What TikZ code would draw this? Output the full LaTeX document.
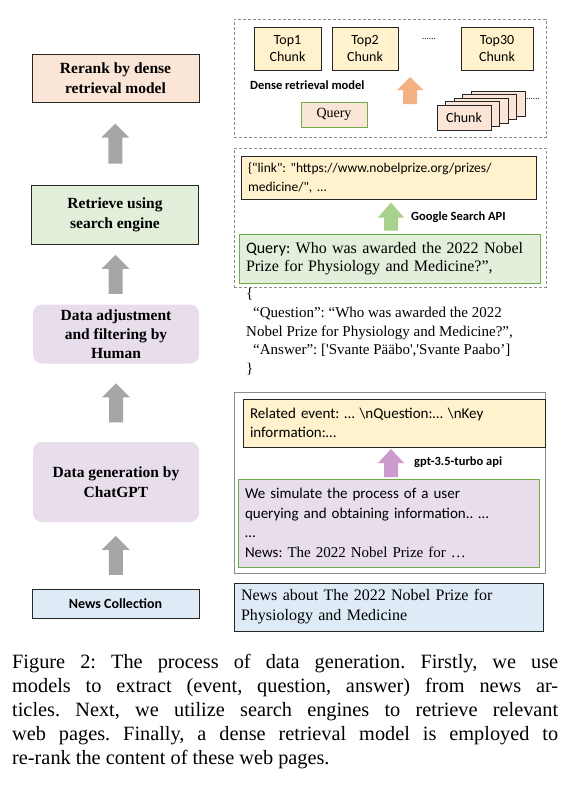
\documentclass[tikz,border=0pt]{standalone}
\usepackage{fontspec}
\setmainfont{Liberation Serif}
\newfontfamily\calib{Carlito}
\usetikzlibrary{calc}
\definecolor{peach}{HTML}{FBE5D6}
\definecolor{lgreen}{HTML}{E2EFDA}
\definecolor{lav}{HTML}{E8DDEA}
\definecolor{lblue}{HTML}{DEEBF7}
\definecolor{lyellow}{HTML}{FFF2CC}
\definecolor{qgreen}{HTML}{70AD47}
\definecolor{boxline}{HTML}{262626}
\definecolor{dashgray}{HTML}{8C8C8C}
\definecolor{arrowgray}{HTML}{A6A6A6}
\definecolor{arroworange}{HTML}{F4B183}
\definecolor{arrowgreen}{HTML}{A9D18E}
\definecolor{arrowpurple}{HTML}{CC9ACC}
\newcommand\blockarrow[6]{% center, length, head width, shaft width, head length, colour
  \begin{scope}[shift={(#1)}, x=1pt, y=1pt]
    \fill[#6] (-#4/2,-#2/2) -- (-#4/2,#2/2-#5) -- (-#3/2,#2/2-#5) -- (0,#2/2)
      -- (#3/2,#2/2-#5) -- (#4/2,#2/2-#5) -- (#4/2,-#2/2) -- cycle;
  \end{scope}}
\tikzset{
  box/.style={draw=boxline, line width=1pt, inner sep=0pt},
  stepbox/.style={box, minimum width=167pt, align=center,
    font=\bfseries\fontsize{15.5}{20}\selectfont},
  softbox/.style={fill=lav, draw=none, rounded corners=9pt, inner sep=0pt,
    minimum width=166pt, align=center, font=\bfseries\fontsize{15.5}{20}\selectfont},
  dashbox/.style={draw=dashgray, dashed, dash pattern=on 3pt off 2pt, line width=0.8pt, inner sep=0pt},
  chunkbox/.style={box, fill=lyellow, minimum height=43pt, align=center,
    font=\calib\fontsize{14}{17}\selectfont},
  stackbox/.style={box, fill=peach, minimum width=54pt, minimum height=25pt,
    font=\calib\fontsize{14}{17}\selectfont},
  textbox/.style={box, inner xsep=7pt, align=left},
  apilabel/.style={anchor=west, inner sep=0pt, font=\calib\bfseries\fontsize{12.5}{15}\selectfont},
  dotlabel/.style={inner sep=0pt, font=\calib\fontsize{9}{9}\selectfont}
}
\begin{document}
\frenchspacing
\begin{tikzpicture}[x=1pt, y=-1pt]
\useasboundingbox (0,0) rectangle (575,793);
\fill[white] (0,0) rectangle (575,793);

% ---------- left column ----------
\node[stepbox, fill=peach, minimum height=48pt] (rerank) at (115.5,78) {Rerank by dense\\retrieval model};
\node[stepbox, fill=lgreen, minimum height=59pt] (retrieve) at (115,214.5) {Retrieve using\\search engine};
\node[softbox, minimum height=59pt] (adjust) at (116,334) {Data adjustment\\[-1pt]and filtering by\\[-1pt]Human};
\node[softbox, minimum height=80pt] (generate) at (116,482) {Data generation by\\ChatGPT};
\node[box, fill=lblue, minimum width=167pt, minimum height=29pt,
  font=\calib\bfseries\fontsize{14}{17}\selectfont] (news) at (115.5,603.5) {News Collection};

\blockarrow{$(rerank.south)!0.5!(retrieve.north)$}{40}{28}{14}{14}{arrowgray}
\blockarrow{$(retrieve.south)!0.5!(adjust.north)$}{39}{28}{14}{14}{arrowgray}
\blockarrow{$(adjust.south)!0.5!(generate.north)$}{39}{28}{14}{14}{arrowgray}
\blockarrow{$(generate.south)!0.5!(news.north)$}{39}{28}{14}{14}{arrowgray}

% ---------- right: dense retrieval ----------
\node[dashbox, minimum width=312pt, minimum height=118pt] (dtop) at (390,78) {};
\node[chunkbox, minimum width=67pt] (top1) at (287.5,48.5) {Top1\\Chunk};
\node[chunkbox, minimum width=66pt] (top2) at (365,48.5) {Top2\\Chunk};
\node[chunkbox, minimum width=72pt] (top30) at (497,48.5) {Top30\\Chunk};
\node[dotlabel] (dots1) at (429,39) {......};
\node[anchor=west, inner sep=0pt, font=\calib\bfseries\fontsize{12.5}{15}\selectfont] (drm) at (250,85) {Dense retrieval model};
\node[box, draw=qgreen, fill=peach, minimum width=66pt, minimum height=25pt,
  font=\fontsize{14}{17}\selectfont] (query) at (334,114.5) {Query};
\node[stackbox] (chunk4) at (498,103.5) {};
\node[stackbox] (chunk3) at (489.5,107) {};
\node[stackbox] (chunk2) at (481,110.5) {};
\node[stackbox] (chunk1) at (472.5,114) {};
\node[stackbox] (chunk0) at (464,117.5) {Chunk};
\node[dotlabel] (dots2) at (533,99) {......};
\coordinate (oarr) at (410,90.5);
\blockarrow{oarr}{27}{26}{14}{13}{arroworange}

% ---------- right: search engine ----------
\node[dashbox, minimum width=312pt, minimum height=139pt] (dmid) at (390,217.5) {};
\node[textbox, fill=lyellow, minimum width=295pt, minimum height=43pt, text width=281pt,
  font=\calib\fontsize{13.5}{19}\selectfont] (link) at (388.5,177.5)
  {\{"link": "https://www.nobelprize.org/prizes/\\medicine/", ...};
\node[textbox, draw=qgreen, fill=lgreen, minimum width=301pt, minimum height=49pt, text width=287pt,
  font=\fontsize{16}{18.5}\selectfont] (qbig) at (389.5,258.5)
  {{\calib Query:} Who was awarded the 2022 Nobel\\Prize for Physiology and Medicine?”,};
\coordinate (gx) at (391,0);
\blockarrow{$(link.south -| gx)!0.5!(qbig.north -| gx)$}{28}{26}{14}{15}{arrowgreen}
\node[apilabel] (gapi) at (411,217) {Google Search API};

% ---------- JSON ----------
\node[anchor=north west, inner sep=0pt, align=left, font=\fontsize{15}{18.7}\selectfont] (json) at (246,288)
  {\{\\
   \hspace*{7pt}“Question”: “Who was awarded the 2022\\
   Nobel Prize for Physiology and Medicine?”,\\
   \hspace*{7pt}“Answer”: [\textquotesingle Svante Pääbo\textquotesingle,\textquotesingle Svante Paabo’]\\
   \}};

% ---------- right: generation ----------
\node[draw=dashgray, line width=0.9pt, inner sep=0pt, minimum width=311pt, minimum height=181pt] (gbox) at (389.5,482.5) {};
\node[textbox, fill=lyellow, minimum width=302pt, minimum height=48pt, text width=288pt,
  font=\calib\fontsize{15}{19}\selectfont] (related) at (394,423)
  {Related event: … \textbackslash nQuestion:… \textbackslash nKey\\information:…};
\node[textbox, draw=qgreen, fill=lav, minimum width=301pt, minimum height=88pt, text width=287pt,
  font=\calib\fontsize{15}{19.5}\selectfont] (simulate) at (388.5,523)
  {We simulate the process of a user\\querying and obtaining information.. …\\…\\News: {\rmfamily The 2022 Nobel Prize for …}};
\blockarrow{$(related.south -| gx)!0.5!(simulate.north -| gx)$}{28}{26}{14}{14}{arrowpurple}
\node[apilabel] (gpt) at (414,462) {gpt-3.5-turbo api};

\node[textbox, fill=lblue, minimum width=309pt, minimum height=48pt, text width=295pt,
  font=\fontsize{16}{20}\selectfont] (newsabout) at (388.5,607)
  {News about The 2022 Nobel Prize for\\Physiology and Medicine};

% ---------- caption ----------
\node[anchor=north west, inner sep=0pt, text width=546pt, align=justify,
  font=\fontsize{20.3}{24}\selectfont] (caption) at (12,654)
  {Figure 2: The process of data generation. Firstly, we use\linebreak
   models to extract (event, question, answer) from news ar-\linebreak
   ticles. Next, we utilize search engines to retrieve relevant\linebreak
   web pages. Finally, a dense retrieval model is employed to\linebreak
   re-rank the content of these web pages.};
\end{tikzpicture}
\end{document}
